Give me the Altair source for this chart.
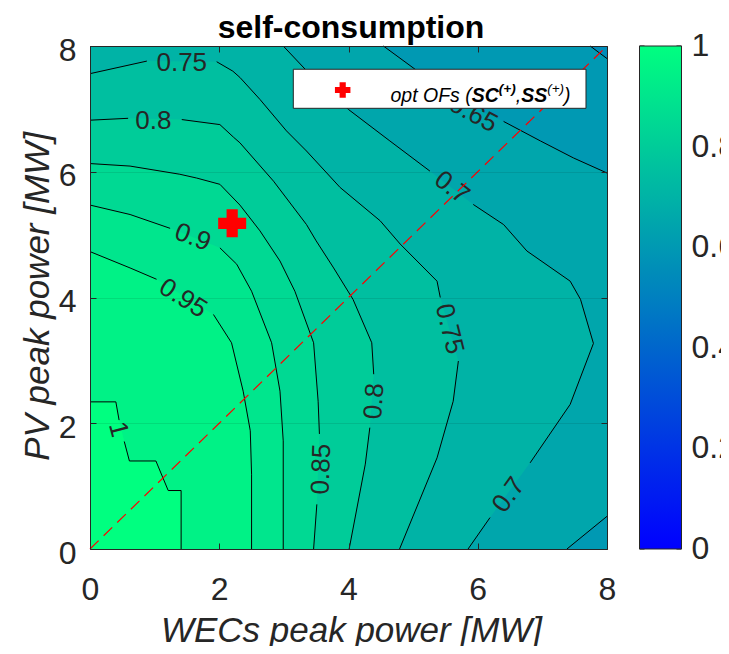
import altair as alt
import pandas as pd

# ---------------- data ----------------
LEVELS = [0.55, 0.6, 0.65, 0.7, 0.75, 0.8, 0.85, 0.9, 0.95, 1.0]

# contour paths (x = WECs MW, y = PV MW); segments are split where labels sit
C100 = [[(0, 2.34), (0.40, 2.34), (0.45, 2.05)],
        [(0.53, 1.71), (0.61, 1.40), (1.02, 1.40), (1.21, 0.93), (1.41, 0.93), (1.41, 0)]]
C095 = [[(0, 4.73), (0.62, 4.47), (1.03, 4.29)],
        [(1.91, 3.73), (2.19, 3.28), (2.37, 2.51), (2.48, 1.88), (2.50, 1.19), (2.50, 0)]]
C090 = [[(0, 5.47), (0.62, 5.32), (1.24, 5.10)],
        [(2.01, 4.79), (2.27, 4.53), (2.50, 4.10), (2.81, 3.28), (2.94, 2.51), (2.99, 1.72), (2.99, 0)]]
C085 = [[(0, 6.13), (0.62, 6.09), (1.39, 5.96), (1.65, 5.90), (2.01, 5.80), (2.32, 5.47), (2.63, 5.06),
         (2.94, 4.58), (3.17, 4.10), (3.46, 3.28), (3.53, 2.35), (3.55, 1.83)],
        [(3.51, 0.71), (3.46, 0)]]
C080 = [[(0, 6.82), (0.59, 6.85)],
        [(1.42, 6.83), (2.01, 6.75), (2.22, 6.55), (2.32, 6.46), (2.84, 5.85), (3.35, 5.16), (3.50, 4.90),
         (3.77, 4.47), (4.07, 3.97), (4.36, 3.28), (4.39, 2.78)],
        [(4.33, 1.93), (4.26, 1.35), (4.01, 0)]]
C075 = [[(0, 7.56), (0.88, 7.76)],
        [(1.96, 7.75), (2.21, 7.60), (2.32, 7.50), (2.63, 7.15), (3.04, 6.65), (3.35, 6.33), (3.87, 5.75),
         (4.49, 5.22), (4.80, 4.85), (5.37, 4.26), (5.42, 4.00)],
        [(5.70, 2.99), (5.62, 2.35), (5.37, 1.45), (4.79, 0)]]
C070 = [[(2.99, 8), (3.33, 7.63), (4.00, 6.99), (4.64, 6.49), (5.26, 6.01)],
        [(5.93, 5.48), (6.40, 5.16), (6.76, 4.74), (7.43, 4.26), (7.59, 3.97), (7.79, 3.27), (7.43, 2.30),
         (6.81, 1.37)],
        [(6.19, 0.50), (5.85, 0)]]
C065A = [[(4.54, 8), (5.03, 7.63), (5.55, 7.20)],
         [(6.40, 6.80), (6.97, 6.49), (7.48, 6.22), (8, 5.98)]]
C065B = [[(7.38, 0), (8, 0.52)]]
C060 = [[(7.74, 8), (8, 7.80)]]

# contour labels: text, x, y, rotation
LABEL_TEXT = ["1", "0.95", "0.9", "0.85", "0.8", "0.8", "0.75", "0.75", "0.7", "0.7", "0.65"]
LABEL_X = [0.44, 1.44, 1.59, 3.58, 0.98, 4.40, 1.42, 5.56, 5.60, 6.48, 5.93]
LABEL_Y = [1.90, 3.99, 4.96, 1.27, 6.80, 2.35, 7.73, 3.50, 5.75, 0.86, 6.92]
LABEL_ANGLE = [75, 32, 21, 272, 0, 274, 0, 76, 38, 306, 28]

DIAG_X = [0, 8]
DIAG_Y = [0, 8]
OPT_X = [2.2]
OPT_Y = [5.18]
CBAR_TICKS = [0, 0.2, 0.4, 0.6, 0.8, 1]


def flat(segs):
    return [p for s in segs for p in s]


REGIONS = {
    1.0: [(0, 0)] + flat(C100),
    0.95: [(0, 0)] + flat(C095),
    0.9: [(0, 0)] + flat(C090),
    0.85: [(0, 0)] + flat(C085),
    0.8: [(0, 0)] + flat(C080),
    0.75: [(0, 0)] + flat(C075),
    0.7: [(0, 0), (0, 8)] + flat(C070),
    0.65: [(0, 0), (0, 8)] + flat(C065A) + list(reversed(flat(C065B))),
    0.6: [(0, 0), (0, 8)] + flat(C060) + [(8, 0)],
    0.55: [(0, 0), (0, 8), (8, 8), (8, 0)],
}

# ---------------- styling ----------------
FONT = "Liberation Sans"
INK = "#262626"
NEG_TICK = alt.ExprRef(expr="-6")
PLOT_W, PLOT_H = 517, 503
CB_X0, CB_W = 549.5, 42

XS = alt.Scale(domain=[0, 8], nice=False, zero=False)
YS = alt.Scale(domain=[0, 8], nice=False, zero=False)
FILL_SCALE = alt.Scale(domain=[0, 1], range=["#0000ff", "#00ff80"], interpolate="rgb")

AX_BOTTOM = alt.Axis(orient="bottom", values=[0, 2, 4, 6, 8], format="d",
                     title="WECs peak power [MW]", titleFont=FONT, titleFontSize=35,
                     titleFontStyle="italic", titleFontWeight="normal", titleColor=INK,
                     titleX=261, titleY=92, titleBaseline="alphabetic",
                     labelFont=FONT, labelFontSize=32, labelColor=INK, labelPadding=31,
                     labelFlush=False, tickSize=NEG_TICK, tickColor=INK, tickWidth=1,
                     domainColor=INK, domainWidth=1, grid=False, zindex=1)
AX_TOP = alt.Axis(orient="top", values=[0, 2, 4, 6, 8], labels=False, title=None,
                  tickSize=NEG_TICK, tickColor=INK, tickWidth=1,
                  domainColor=INK, domainWidth=1, grid=False, zindex=1)
AY_LEFT = alt.Axis(orient="left", values=[0, 2, 4, 6, 8], format="d",
                   title="PV peak power [MW]", titleFont=FONT, titleFontSize=35,
                   titleFontStyle="italic", titleFontWeight="normal", titleColor=INK,
                   titleX=-42, titleY=250, titleAngle=270, titleBaseline="alphabetic",
                   labelFont=FONT, labelFontSize=32, labelColor=INK, labelPadding=20,
                   labelOffset=4, labelFlush=False, tickSize=NEG_TICK, tickColor=INK,
                   tickWidth=1, domainColor=INK, domainWidth=1,
                   grid=True, gridColor="#000000", gridOpacity=0.09, zindex=1)
AY_RIGHT = alt.Axis(orient="right", values=[0, 2, 4, 6, 8], labels=False, title=None,
                    tickSize=NEG_TICK, tickColor=INK, tickWidth=1,
                    domainColor=INK, domainWidth=1, grid=False, zindex=1)

LEGEND = alt.Legend(orient="none", legendX=CB_X0, legendY=0, direction="vertical",
                    title=None, gradientLength=PLOT_H, gradientThickness=CB_W,
                    gradientStrokeColor=INK, gradientStrokeWidth=1,
                    values=CBAR_TICKS, labelExpr="''", labelFontSize=1, padding=0)

layers = []

# filled contour bands (painted from lowest level upward)
for n, lev in enumerate(LEVELS):
    pts = REGIONS[lev]
    df = pd.DataFrame({"level": lev, "i": list(range(len(pts))),
                       "x": [p[0] for p in pts], "y": [p[1] for p in pts]})
    first = n == 0
    layers.append(
        alt.Chart(df).mark_line(stroke="transparent", strokeWidth=0, interpolate="linear").encode(
            x=alt.X("x:Q", scale=XS, axis=AX_BOTTOM if first else None),
            y=alt.Y("y:Q", scale=YS, axis=AY_LEFT if first else None),
            fill=alt.Fill("level:Q", scale=FILL_SCALE, legend=LEGEND if first else None),
            order=alt.Order("i:Q"),
        )
    )

# contour lines
rows = []
sid = 0
for segs in [C100, C095, C090, C085, C080, C075, C070, C065A, C065B, C060]:
    for s in segs:
        for k, (px, py) in enumerate(s):
            rows.append({"seg": sid, "i": k, "x": px, "y": py})
        sid += 1
lines_df = pd.DataFrame(rows)
layers.append(
    alt.Chart(lines_df).mark_line(color="#000000", strokeWidth=1).encode(
        x=alt.X("x:Q", scale=XS, axis=AX_TOP),
        y=alt.Y("y:Q", scale=YS, axis=AY_RIGHT),
        detail="seg:N",
        order=alt.Order("i:Q"),
    )
)

# contour labels
lab_df = pd.DataFrame({"t": LABEL_TEXT, "x": LABEL_X, "y": LABEL_Y, "a": LABEL_ANGLE})
layers.append(
    alt.Chart(lab_df).mark_text(font=FONT, fontSize=26, color=INK, align="center",
                                baseline="middle").encode(
        x=alt.X("x:Q", scale=XS, axis=None),
        y=alt.Y("y:Q", scale=YS, axis=None),
        text="t:N",
        angle=alt.Angle("a:Q", scale=None),
    )
)

# diagonal dashed line
diag_df = pd.DataFrame({"x": DIAG_X, "y": DIAG_Y})
layers.append(
    alt.Chart(diag_df).mark_line(color="#ff0000", strokeWidth=1.2, strokeDash=[12, 7]).encode(
        x=alt.X("x:Q", scale=XS, axis=None),
        y=alt.Y("y:Q", scale=YS, axis=None),
    )
)

# optimum marker
opt_df = pd.DataFrame({"x": OPT_X, "y": OPT_Y})
layers.append(
    alt.Chart(opt_df).mark_point(shape="cross", filled=True, color="#ff0000", size=784,
                                 opacity=1, strokeWidth=0).encode(
        x=alt.X("x:Q", scale=XS, axis=None),
        y=alt.Y("y:Q", scale=YS, axis=None),
    )
)

# legend box
base = alt.Chart(pd.DataFrame({"k": [0]}))
layers.append(
    base.mark_rect(fill="#ffffff", stroke=INK, strokeWidth=1).encode(
        x=alt.datum(3.146, scale=XS, axis=None), x2=alt.datum(7.675),
        y=alt.datum(7.63, scale=YS, axis=None), y2=alt.datum(7.009),
    )
)
layers.append(
    base.mark_point(shape="cross", filled=True, color="#ff0000", size=240, opacity=1,
                    strokeWidth=0).encode(
        x=alt.datum(3.91, scale=XS, axis=None), y=alt.datum(7.30, scale=YS, axis=None),
    )
)

F, S = 19.5, 13.5
pieces = [("opt OFs (", "normal", F, 0, 4.168),
          ("SC", "bold", F, 0, 1.389),
          ("(+)", "bold", S, -9, 1.25),
          (",", "normal", F, 0, 0.278),
          ("SS", "bold", F, 0, 1.334),
          ("(+)", "normal", S, -9, 1.25),
          (")", "normal", F, 0, 0.333)]
dx = 0.0
for txt, wt, fs, dy, em in pieces:
    layers.append(
        base.mark_text(text=txt, font=FONT, fontSize=fs, fontStyle="italic", fontWeight=wt,
                       color="#000000", align="left", baseline="alphabetic", dx=dx, dy=dy).encode(
            x=alt.datum(4.65, scale=XS, axis=None), y=alt.datum(7.114, scale=YS, axis=None),
        )
    )
    dx += em * fs

# chart title
layers.append(
    base.mark_text(text="self-consumption", font=FONT, fontSize=32, fontWeight="bold",
                   color="#000000", align="center", baseline="alphabetic").encode(
        x=alt.value(261), y=alt.value(-8),
    )
)

main = alt.layer(*layers)

# colorbar tick labels and tick marks on the colorbar's own 0..1 scale
CBS = alt.Scale(domain=[0, 1], nice=False, zero=False)
cb_df = pd.DataFrame({"v": CBAR_TICKS})
cb_text = alt.Chart(cb_df).mark_text(font=FONT, fontSize=32, color=INK, align="left",
                                     baseline="middle").encode(
    x=alt.value(CB_X0 + CB_W + 10),
    y=alt.Y("v:Q", scale=CBS, axis=None),
    text=alt.Text("v:Q", format="~g"),
)
cb_tick_l = alt.Chart(cb_df).mark_rule(color=INK, strokeWidth=1).encode(
    x=alt.value(CB_X0), x2=alt.value(CB_X0 + 5),
    y=alt.Y("v:Q", scale=CBS, axis=None),
)
cb_tick_r = alt.Chart(cb_df).mark_rule(color=INK, strokeWidth=1).encode(
    x=alt.value(CB_X0 + CB_W - 5), x2=alt.value(CB_X0 + CB_W),
    y=alt.Y("v:Q", scale=CBS, axis=None),
)
cbar = alt.layer(cb_tick_l, cb_tick_r, cb_text)

chart = alt.layer(main, cbar).resolve_scale(y="independent").properties(
    width=PLOT_W, height=PLOT_H,
    autosize=alt.AutoSizeParams(type="none"),
    padding={"left": 82, "top": 38, "right": 114, "bottom": 97},
    background="#ffffff",
).configure_view(strokeWidth=0)

chart.save("out.html", embed_options={"renderer": "svg", "actions": False})
